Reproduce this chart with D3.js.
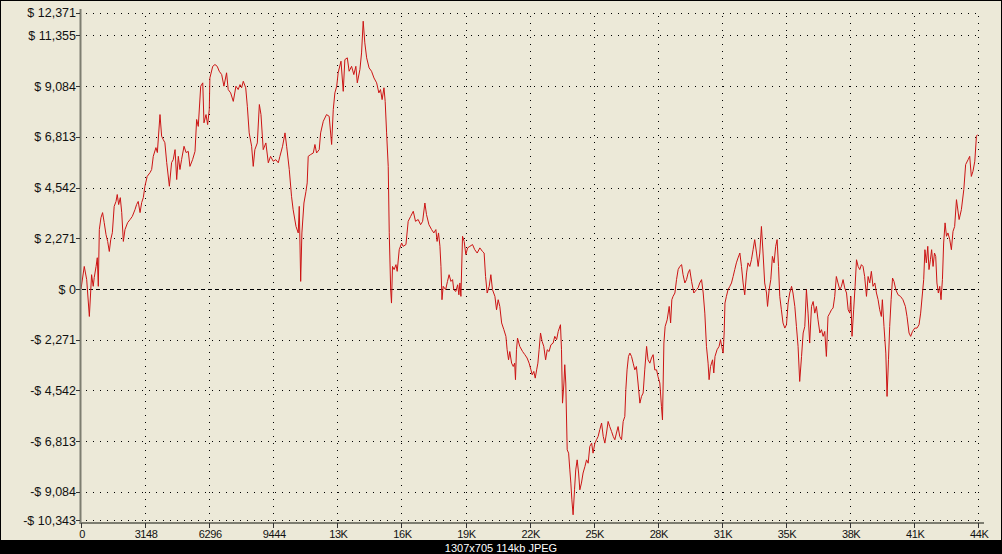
<!DOCTYPE html>
<html>
<head>
<meta charset="utf-8">
<script src="https://cdn.jsdelivr.net/npm/d3@7"></script>
<style>
  html, body { margin: 0; padding: 0; background: #ECE9D8; }
  svg { display: block; }
</style>
</head>
<body>
<svg id="chart" width="1002" height="554"></svg>
<script>
// ---- data ----
const trades = [0,160,280,410,520,600,650,740,800,850,900,980,1060,1140,1230,1310,1390,1460,1540,1630,1720,1780,1850,1930,2000,2080,2160,2290,2410,2520,2650,2730,2810,2900,2980,3060,3140,3250,3390,3470,3550,3680,3750,3880,3960,4040,4120,4210,4340,4450,4530,4620,4700,4780,4860,4940,5060,5160,5270,5350,5480,5600,5680,5760,5880,5980,6040,6140,6220,6300,6330,6470,6580,6690,6790,6910,7020,7150,7230,7350,7480,7610,7720,7810,7890,7970,8090,8170,8260,8380,8460,8540,8660,8760,8840,8950,9080,9200,9310,9440,9570,9690,9770,9900,10020,10100,10230,10340,10420,10560,10670,10720,10790,10850,10950,11050,11110,11160,11280,11410,11490,11570,11700,11770,11900,12060,12190,12310,12390,12470,12560,12630,12770,12880,12960,13080,13170,13290,13400,13500,13570,13700,13780,13860,13940,14030,14150,14270,14390,14520,14630,14710,14790,14880,14940,15010,15090,15140,15210,15250,15300,15380,15470,15530,15630,15750,15820,15960,16070,16190,16320,16430,16560,16680,16780,16890,16970,17090,17220,17330,17430,17490,17560,17630,17680,17730,17790,17910,18000,18080,18170,18250,18310,18410,18500,18560,18610,18660,18740,18820,18900,18990,19100,19230,19340,19460,19590,19720,19800,19870,19950,20050,20130,20210,20330,20410,20490,20570,20660,20770,20870,20930,21000,21060,21150,21230,21300,21340,21390,21440,21550,21690,21800,21910,22010,22100,22160,22240,22310,22380,22440,22500,22570,22650,22730,22820,22900,22990,23080,23190,23270,23360,23440,23550,23600,23650,23720,23760,23810,23880,23950,24010,24060,24110,24170,24240,24300,24370,24440,24500,24580,24660,24750,24830,24910,24990,25080,25150,25240,25320,25400,25480,25570,25650,25730,25810,25890,25970,26060,26140,26220,26300,26380,26460,26550,26630,26710,26760,26820,26890,26960,27040,27120,27200,27280,27360,27450,27530,27610,27690,27780,27850,27940,28020,28100,28180,28270,28340,28430,28510,28560,28630,28690,28790,28890,28960,29020,29080,29170,29250,29330,29410,29500,29570,29660,29740,29820,29900,29990,30100,30230,30310,30390,30480,30560,30640,30720,30800,30850,30920,31020,31080,31140,31240,31340,31410,31470,31540,31590,31630,31700,31780,31870,31950,32030,32110,32190,32270,32360,32440,32520,32600,32690,32760,32850,32930,33010,33090,33180,33260,33340,33420,33500,33580,33670,33720,33800,33880,33960,34040,34120,34190,34260,34320,34400,34480,34570,34650,34730,34810,34900,34970,35060,35140,35220,35300,35390,35470,35550,35630,35710,35790,35880,35960,36040,36120,36200,36290,36370,36450,36530,36610,36690,36780,36860,36940,37020,37100,37180,37270,37350,37430,37510,37600,37680,37760,37810,37870,37950,38020,38090,38170,38250,38330,38410,38490,38580,38660,38740,38820,38900,38990,39070,39150,39230,39310,39360,39440,39530,39590,39660,39720,39790,39860,39930,40020,40130,40250,40370,40490,40570,40670,40750,40840,40950,41060,41160,41240,41330,41390,41450,41520,41590,41650,41720,41780,41850,41920,41980,42040,42110,42180,42240,42310,42370,42440,42510,42580,42670,42750,42830,42910,43000,43130,43240,43360,43450,43570,43650,43730,43810,43900,43980,44030];

const equity = [0,1010,420,-1230,640,120,510,1010,1400,120,2660,3190,3420,2970,2430,2130,1680,2210,2520,3700,3920,4230,3780,4090,3420,2130,2660,2970,3110,3250,3550,3780,3920,3420,3870,4090,4600,5040,5210,5350,5940,6330,6110,7810,6840,6690,6550,5660,4600,5660,5790,6240,4900,5940,5350,5790,6390,6110,6160,5490,5790,6160,7590,7280,9080,9230,7440,7810,7360,8030,9450,9970,10050,9970,9750,9600,9080,9680,8930,8780,8400,9080,8930,9150,9010,9300,9010,8180,6990,6390,5490,6240,6540,8260,7810,6240,6540,5650,5940,5720,5790,5650,5940,6390,6990,6390,5350,4150,3550,2800,2510,3700,340,2510,3850,4370,4750,5940,6020,6090,6470,6090,6240,6990,7510,7810,7730,6470,8030,8780,9080,9680,10200,8850,10270,10350,9750,9970,9600,9970,9230,9830,10570,11990,11020,10350,9900,9750,9450,9230,8780,8930,8480,9010,8400,6990,5490,2520,-30,-630,1010,870,1090,790,1760,2060,1910,1990,3030,3250,3480,3030,3110,2880,3030,3850,3330,2880,2660,2510,2660,2130,2510,1910,1010,-480,120,-30,340,640,340,420,-30,-110,190,-260,270,-330,2360,2130,1540,1840,1910,1990,1760,1610,1840,1680,1610,560,-180,120,640,-30,-330,-930,-480,-780,-1520,-1820,-2120,-2720,-3170,-2800,-3320,-3470,-3320,-4060,-2720,-2200,-2570,-2800,-2940,-3090,-3320,-3620,-3840,-3690,-3990,-3620,-3320,-2720,-1970,-2350,-2570,-3170,-2720,-2800,-2500,-2420,-2120,-2270,-1900,-1600,-2720,-5110,-4210,-3390,-4210,-7200,-7350,-8100,-8690,-9440,-10110,-8990,-8100,-7650,-8240,-8990,-8690,-8240,-7950,-7650,-7800,-7050,-6900,-7350,-6900,-6750,-6600,-6300,-6000,-6600,-6900,-6450,-5930,-6160,-6380,-6600,-6750,-6450,-6160,-6600,-6750,-5930,-5710,-4510,-3620,-3020,-2870,-3020,-3320,-3620,-3470,-4210,-5110,-4810,-4660,-3620,-2570,-3170,-3320,-3090,-2940,-3620,-3620,-3920,-4210,-5260,-5860,-2420,-1680,-1380,-780,-1520,-480,-330,-180,420,870,1010,1090,640,270,420,720,870,340,-180,-30,50,270,420,-180,-1080,-2570,-3320,-4060,-3470,-3170,-3760,-3020,-2720,-2570,-2270,-2570,-2870,-1970,-630,-330,-30,120,270,560,870,1170,1390,1610,1010,270,-260,720,1170,1010,1310,1760,2210,1610,1010,1610,2800,1610,270,-180,-780,-30,420,1460,1170,1910,2210,1010,-330,-930,-1520,-1750,-1600,-630,-180,120,-180,-780,-1680,-2570,-4140,-3020,-1970,-1680,-30,-1080,-2420,-780,-560,-1080,-780,-1380,-1970,-1820,-2120,-1900,-3020,-1230,-1080,-930,-850,-330,560,270,-30,120,420,50,-180,-930,-1080,-330,-2120,-930,120,1310,1010,870,1090,1010,560,-330,560,270,790,120,270,-180,-480,-930,-1230,-480,-1680,-2870,-4810,-3170,-1680,-480,490,340,-30,-260,-330,-480,-780,-1230,-1970,-2120,-1900,-1750,-1750,-1600,-1080,-180,420,1760,1170,1910,870,1310,1760,1010,1610,1460,270,-180,120,-480,420,2060,2960,2360,2510,2210,1760,2580,2800,4000,3110,3550,4450,5570,5790,5940,5040,5270,5720,6840,6910];

const yTicks = [12371, 11355, 9084, 6813, 4542, 2271, 0, -2271, -4542, -6813, -9084, -10343];
const xTicks = [0, 3148, 6296, 9444, 12592, 15740, 18888, 22036, 25184, 28332, 31480, 34628, 37776, 40924, 44072];
const xTickLabels = ["0","3148","6296","9444","13K","16K","19K","22K","25K","28K","31K","35K","38K","41K","44K"];
const footerText = "1307x705 114kb JPEG";

// ---- drawing ----
const W = 1002, H = 554;
const svg = d3.select("#chart");
const font = "'Liberation Sans', Arial, sans-serif";

const x = d3.scaleLinear().domain([0, 44072]).range([81, 978.3]);
const y = d3.scaleLinear().domain([-10343, 12371]).range([520, 12.7]);

svg.append("rect").attr("x", 0).attr("y", 0).attr("width", W).attr("height", H).attr("fill", "#ECE9D8");

// grid: horizontal
const gGrid = svg.append("g");
gGrid.selectAll("line.h").data(yTicks.filter(d => d !== 0)).enter().append("line")
  .attr("x1", 82).attr("x2", 979)
  .attr("y1", d => Math.round(y(d)) + 0.5).attr("y2", d => Math.round(y(d)) + 0.5)
  .attr("stroke", "#000").attr("stroke-width", 1).attr("stroke-dasharray", "1,6").attr("stroke-dashoffset", -4);
// vertical
gGrid.selectAll("line.v").data(xTicks.filter(d => d !== 0)).enter().append("line")
  .attr("x1", d => Math.round(x(d)) + 0.5).attr("x2", d => Math.round(x(d)) + 0.5)
  .attr("y1", 14).attr("y2", 521)
  .attr("stroke", "#000").attr("stroke-width", 1).attr("stroke-dasharray", "1,6").attr("stroke-dashoffset", -2);
// zero line dashed
gGrid.append("line")
  .attr("x1", 82).attr("x2", 979)
  .attr("y1", Math.round(y(0)) + 0.5).attr("y2", Math.round(y(0)) + 0.5)
  .attr("stroke", "#000").attr("stroke-width", 1).attr("stroke-dasharray", "4,3");

// equity line
const pts = trades.map((t, i) => [t, equity[i]]);
svg.append("path")
  .datum(pts)
  .attr("fill", "none")
  .attr("stroke", "#cc1414")
  .attr("stroke-width", 1)
  .attr("stroke-linejoin", "round")
  .attr("d", d3.line().x(d => x(d[0])).y(d => y(d[1])));

// axes lines
const axisColor = "#7d7d70";
svg.append("line").attr("x1", 80.5).attr("x2", 80.5).attr("y1", 9).attr("y2", 524)
  .attr("stroke", axisColor).attr("stroke-width", 2);
svg.append("line").attr("x1", 79.5).attr("x2", 984).attr("y1", 523).attr("y2", 523)
  .attr("stroke", axisColor).attr("stroke-width", 2);

// y ticks + labels
const fmt = d3.format(",");
const yLab = v => v < 0 ? "-$ " + fmt(-v) : "$ " + fmt(v);
const gy = svg.append("g");
gy.selectAll("line").data(yTicks).enter().append("line")
  .attr("x1", 76).attr("x2", 80)
  .attr("y1", d => Math.round(y(d)) + 0.5).attr("y2", d => Math.round(y(d)) + 0.5)
  .attr("stroke", "#333").attr("stroke-width", 1);
gy.selectAll("text").data(yTicks).enter().append("text")
  .attr("x", 76).attr("y", d => y(d) + 4.6)
  .attr("text-anchor", "end")
  .attr("font-family", font).attr("font-size", 12.5).attr("fill", "#111")
  .text(yLab);

// x ticks + labels
const gx = svg.append("g");
gx.selectAll("line").data(xTicks).enter().append("line")
  .attr("x1", d => Math.round(x(d)) + 0.5).attr("x2", d => Math.round(x(d)) + 0.5)
  .attr("y1", 523).attr("y2", 528)
  .attr("stroke", "#333").attr("stroke-width", 1);
gx.selectAll("text").data(xTicks).enter().append("text")
  .attr("x", d => x(d) + 1).attr("y", 538)
  .attr("text-anchor", "middle")
  .attr("font-family", font).attr("font-size", 11).attr("letter-spacing", "-0.4px").attr("fill", "#111")
  .text((d, i) => xTickLabels[i]);

// footer band
svg.append("rect").attr("x", 0).attr("y", 540).attr("width", W).attr("height", H - 540).attr("fill", "#000");
svg.append("text").attr("x", 501).attr("y", 551.5).attr("text-anchor", "middle")
  .attr("font-family", font).attr("font-size", 11).attr("fill", "#fff").text(footerText);

// frame
svg.append("rect").attr("x", 0.5).attr("y", 0.5).attr("width", W - 1).attr("height", H - 1)
  .attr("fill", "none").attr("stroke", "#000").attr("stroke-width", 1);
</script>
</body>
</html>
